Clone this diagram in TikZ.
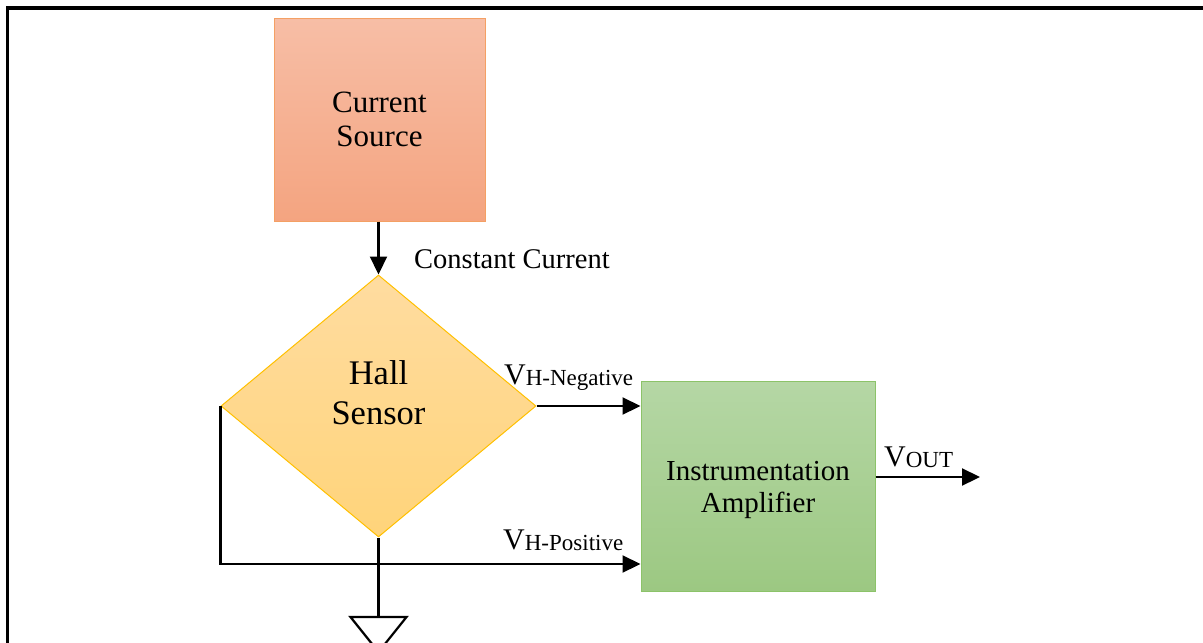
\documentclass[tikz,border=0pt]{standalone}
\usepackage{fontspec}
\setmainfont{Liberation Serif}
\usetikzlibrary{shapes.geometric,arrows.meta,calc}
\definecolor{csTop}{RGB}{247,190,166}
\definecolor{csBot}{RGB}{244,164,128}
\definecolor{csLine}{RGB}{244,160,100}
\definecolor{hsTop}{RGB}{255,220,160}
\definecolor{hsBot}{RGB}{255,212,122}
\definecolor{hsLine}{RGB}{255,192,0}
\definecolor{iaTop}{RGB}{181,215,165}
\definecolor{iaBot}{RGB}{156,200,130}
\definecolor{iaLine}{RGB}{140,195,105}
\tikzset{
  wire/.style={line width=2.2pt, black},
  arr/.style={wire, -{Triangle[length=18pt,width=17pt]}},
  lbl/.style={inner sep=0pt, anchor=base west},
}
\newcommand{\sigv}[1]{{\fontsize{30}{30}\selectfont V}{\fontsize{23}{23}\selectfont\raisebox{-1pt}{#1}}}
\begin{document}
\begin{tikzpicture}[x=1pt,y=-1pt]
\useasboundingbox (0,0) rectangle (1203,643);
% frame
\draw[line width=3.5pt] (7.5,643) -- (7.5,8) -- (1203,8);
% nodes
\node[draw=csLine, line width=1pt, top color=csTop, bottom color=csBot,
      minimum width=211pt, minimum height=203pt, inner sep=0pt,
      align=center, font=\fontsize{31}{34}\selectfont] (cs) at (379.5,119.5) {Current\\Source};
\node[diamond, draw=hsLine, line width=1pt, top color=hsTop, bottom color=hsBot,
      minimum width=315pt, minimum height=262pt, aspect=1.2, inner sep=0pt] (hs) at (378.5,406) {};
\node[align=center, font=\fontsize{34.5}{40}\selectfont, inner sep=0pt] (hst) at (378.5,393) {Hall\\Sensor};
\node[draw=iaLine, line width=1pt, top color=iaTop, bottom color=iaBot,
      minimum width=234pt, minimum height=210pt, inner sep=0pt] (ia) at (758,486) {};
\node[align=center, font=\fontsize{29}{32}\selectfont, inner sep=0pt] (iat) at (758,490) {Instrumentation\\Amplifier};
% connectors
\draw[arr] (cs.south -| hs.north) -- (hs.north);
\node[lbl, font=\fontsize{28.5}{30}\selectfont] (cc) at (414,268) {Constant Current};
\draw[arr] (hs.east) -- (hs.east -| ia.west);
\node[lbl] (vn) at (504,384) {\sigv{H-Negative}};
\coordinate (lc) at (221,564);
\draw[arr] (hs.west) -- (hs.west |- lc) -- (lc -| ia.west);
\node[lbl] (vp) at (503,549) {\sigv{H-Positive}};
\coordinate (vo) at (980,477);
\draw[arr] (ia.east |- vo) -- (vo);
\node[lbl] (vout) at (884,466) {\sigv{OUT}};
% ground
\coordinate (gt) at (378.5,617);
\draw[wire] (hs.south) -- (gt);
\draw[wire, line join=miter] ($(gt)+(-28,0)$) -- ($(gt)+(28,0)$) -- ($(gt)+(0,35)$) -- cycle;
\end{tikzpicture}
\end{document}
